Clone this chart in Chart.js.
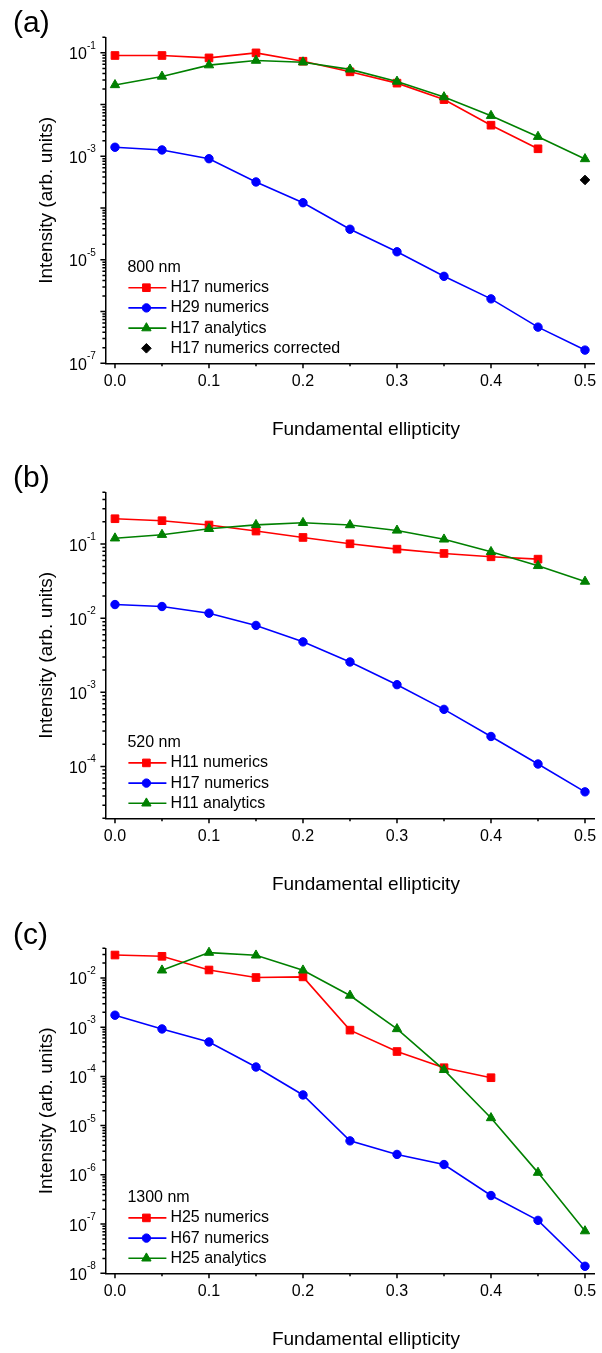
<!DOCTYPE html>
<html>
<head>
<meta charset="utf-8">
<script src="https://cdn.jsdelivr.net/npm/chart.js@4.4.1/dist/chart.umd.min.js"></script>
<style>
  html, body { margin: 0; padding: 0; background: #fff; }
  body { width: 602px; height: 1353px; position: relative; overflow: hidden; font-family: "Liberation Sans", Arial, sans-serif; }
  canvas { position: absolute; left: 0; }
  .tag { position: absolute; left: 13px; font-size: 30px; line-height: 30px; color: #000; }
</style>
</head>
<body>
<canvas id="chartA" width="602" height="450" style="top:0px"></canvas>
<canvas id="chartB" width="602" height="454" style="top:450px"></canvas>
<canvas id="chartC" width="602" height="449" style="top:904px"></canvas>
<div class="tag" style="top:7px">(a)</div>
<div class="tag" style="top:462px">(b)</div>
<div class="tag" style="top:919px">(c)</div>

<script>
const FONT = '"Liberation Sans", Arial, sans-serif';

// x values shared by every panel (fundamental ellipticity)
const ellipticity = [0, 0.05, 0.1, 0.15, 0.2, 0.25, 0.3, 0.35, 0.4, 0.45, 0.5];
const xTickValues = [0, 0.05, 0.1, 0.15, 0.2, 0.25, 0.3, 0.35, 0.4, 0.45, 0.5];
const xRange = [-0.0102, 0.51];

// (a) 800 nm
const h17Numerics800 = [0.089, 0.089, 0.080, 0.100, 0.069, 0.043, 0.026, 0.0125, 0.0040, 0.0014, null];
const h29Numerics800 = [1.5e-3, 1.33e-3, 9.0e-4, 3.2e-4, 1.27e-4, 3.9e-5, 1.43e-5, 4.8e-6, 1.76e-6, 5.0e-7, 1.8e-7];
const h17Analytics800 = [0.024, 0.035, 0.058, 0.071, 0.066, 0.048, 0.028, 0.014, 0.0061, 0.0024, 8.9e-4];
const h17Corrected800 = [null, null, null, null, null, null, null, null, null, null, 3.5e-4];
const yRange800 = [1e-7, 0.2];
const yLabelStep800 = 2;

// (b) 520 nm
const h11Numerics520 = [0.22, 0.207, 0.181, 0.150, 0.123, 0.101, 0.0856, 0.0748, 0.0674, 0.0627, null];
const h17Numerics520 = [0.0153, 0.0144, 0.0117, 0.0080, 0.0048, 0.00257, 0.00127, 5.9e-4, 2.54e-4, 1.08e-4, 4.55e-5];
const h11Analytics520 = [0.120, 0.134, 0.161, 0.182, 0.194, 0.181, 0.153, 0.116, 0.0787, 0.0509, 0.0313];
const yRange520 = [2e-5, 0.5];
const yLabelStep520 = 1;

// (c) 1300 nm
const h25Numerics1300 = [0.0292, 0.0275, 0.0145, 0.0102, 0.0105, 8.7e-4, 3.2e-4, 1.5e-4, 9.4e-5, null, null];
const h67Numerics1300 = [1.75e-3, 9.2e-4, 5.0e-4, 1.55e-4, 4.2e-5, 4.9e-6, 2.6e-6, 1.62e-6, 3.8e-7, 1.19e-7, 1.39e-8];
const h25Analytics1300 = [null, 0.0143, 0.0327, 0.0288, 0.0143, 4.4e-3, 9.2e-4, 1.36e-4, 1.43e-5, 1.11e-6, 7.2e-8];
const yRange1300 = [1e-8, 0.04];
const yLabelStep1300 = 1;

function series(values) {
    return ellipticity.map((x, i) => ({ x: x, y: values[i] })).filter(p => p.y !== null);
}

function isDecade(v) {
    const l = Math.log10(v);
    return Math.abs(l - Math.round(l)) < 1e-6;
}

// tick marks, power-of-ten labels, legend and x title
const decor = {
    id: 'decor',
    afterDraw(chart, args, opts) {
        const ctx = chart.ctx;
        const area = chart.chartArea;
        const xs = chart.scales.x, ys = chart.scales.y;
        ctx.save();

        // ticks (outward, major longer than minor)
        ctx.strokeStyle = '#000';
        ctx.lineWidth = 1.5;
        ctx.beginPath();
        xs.ticks.forEach(t => {
            const px = xs.getPixelForValue(t.value);
            const len = t.label ? 5 : 3;
            ctx.moveTo(px, area.bottom);
            ctx.lineTo(px, area.bottom + len);
        });
        ys.ticks.forEach(t => {
            const py = ys.getPixelForValue(t.value);
            const len = isDecade(t.value) ? 5 : 3;
            ctx.moveTo(area.left, py);
            ctx.lineTo(area.left - len, py);
        });
        ctx.stroke();

        // y labels as 10^n
        ctx.fillStyle = '#000';
        const lowExp = Math.round(Math.log10(ys.min));
        ys.ticks.forEach(t => {
            if (!isDecade(t.value)) return;
            const exp = Math.round(Math.log10(t.value));
            if ((exp - lowExp) % opts.labelStep !== 0) return;
            const py = ys.getPixelForValue(t.value);
            ctx.font = '16px ' + FONT;
            ctx.textAlign = 'right';
            ctx.textBaseline = 'alphabetic';
            ctx.fillText('10', area.left - 18.5, py + 6.5);
            ctx.font = '10px ' + FONT;
            ctx.textAlign = 'left';
            ctx.fillText(String(exp), area.left - 18.5, py - 4);
        });

        // legend inside the plot, bottom left
        const ds = chart.data.datasets;
        const n = ds.length;
        ctx.font = '16px ' + FONT;
        ctx.textAlign = 'left';
        ctx.textBaseline = 'middle';
        ctx.fillText(opts.title, area.left + 22, area.bottom - 15 - n * 20.2);
        ds.forEach((d, i) => {
            const y = area.bottom - 15 - (n - 1 - i) * 20.2;
            if (d.showLine !== false) {
                ctx.strokeStyle = d.borderColor;
                ctx.lineWidth = d.borderWidth;
                ctx.beginPath();
                ctx.moveTo(area.left + 23, y);
                ctx.lineTo(area.left + 61, y);
                ctx.stroke();
            }
            ctx.fillStyle = d.backgroundColor;
            ctx.strokeStyle = d.borderColor;
            ctx.lineWidth = d.pointBorderWidth;
            Chart.helpers.drawPoint(ctx, {
                pointStyle: d.pointStyle, radius: d.pointRadius, rotation: 0, borderWidth: d.pointBorderWidth
            }, area.left + 41, y);
            ctx.fillStyle = '#000';
            ctx.fillText(d.label, area.left + 65, y);
        });

        // x axis title
        ctx.font = '19px ' + FONT;
        ctx.textAlign = 'center';
        ctx.fillText('Fundamental ellipticity', (area.left + area.right) / 2 + 16, area.bottom + 66);
        ctx.restore();
    }
};

function styleSet(label, values, color, shape, radius, order, showLine) {
    return {
        label: label,
        data: series(values),
        borderColor: color,
        backgroundColor: color,
        borderWidth: 1.6,
        pointStyle: shape,
        pointRadius: radius,
        pointBorderWidth: 1,
        showLine: showLine,
        order: order,
        clip: false
    };
}

function makePanel(canvasId, panel, yRange, labelStep, legendTitle, datasets) {
    return new Chart(document.getElementById(canvasId), {
        type: 'line',
        data: { datasets: datasets },
        options: {
            responsive: false,
            animation: false,
            devicePixelRatio: 1,
            layout: { padding: { top: panel.plotTop, right: 7.6, bottom: 0, left: 0 } },
            plugins: {
                legend: { display: false },
                tooltip: { enabled: false },
                decor: { title: legendTitle, labelStep: labelStep }
            },
            scales: {
                x: {
                    type: 'linear',
                    min: xRange[0],
                    max: xRange[1],
                    afterBuildTicks: s => { s.ticks = xTickValues.map(v => ({ value: v })); },
                    afterFit: s => { s.height = panel.height - panel.plotBottom; },
                    grid: { display: false, drawTicks: true, tickLength: 5 },
                    border: { display: true, color: '#000', width: 1.5 },
                    ticks: {
                        autoSkip: false,
                        maxRotation: 0,
                        padding: 3.5,
                        color: '#000',
                        font: { family: FONT, size: 16 },
                        callback: v => Math.abs(v * 10 - Math.round(v * 10)) < 1e-6 ? v.toFixed(1) : ''
                    }
                },
                y: {
                    type: 'logarithmic',
                    min: yRange[0],
                    max: yRange[1],
                    afterBuildTicks: s => {
                        const ticks = [];
                        for (let d = Math.floor(Math.log10(yRange[0])); d <= Math.ceil(Math.log10(yRange[1])); d++) {
                            for (let m = 1; m <= 9; m++) {
                                const v = m * Math.pow(10, d);
                                if (v >= yRange[0] * 0.999 && v <= yRange[1] * 1.001) ticks.push({ value: v });
                            }
                        }
                        s.ticks = ticks;
                    },
                    afterFit: s => { s.width = 105.4; },
                    grid: { display: false },
                    border: { display: true, color: '#000', width: 1.5 },
                    ticks: { display: false },
                    title: {
                        display: true,
                        text: 'Intensity (arb. units)',
                        color: '#000',
                        font: { family: FONT, size: 19 },
                        padding: { top: 35.6, bottom: 0 }
                    }
                }
            }
        },
        plugins: [decor]
    });
}

makePanel('chartA', { height: 450, plotTop: 37.3, plotBottom: 363.3 }, yRange800, yLabelStep800, '800 nm', [
    styleSet('H17 numerics', h17Numerics800, '#ff0000', 'rect', 5.4, 3, true),
    styleSet('H29 numerics', h29Numerics800, '#0000ff', 'circle', 4.2, 2, true),
    styleSet('H17 analytics', h17Analytics800, '#008000', 'triangle', 5.4, 1, true),
    styleSet('H17 numerics corrected', h17Corrected800, '#000000', 'rectRot', 4.8, 0, false)
]);

makePanel('chartB', { height: 454, plotTop: 42.3, plotBottom: 368.3 }, yRange520, yLabelStep520, '520 nm', [
    styleSet('H11 numerics', h11Numerics520, '#ff0000', 'rect', 5.4, 3, true),
    styleSet('H17 numerics', h17Numerics520, '#0000ff', 'circle', 4.2, 2, true),
    styleSet('H11 analytics', h11Analytics520, '#008000', 'triangle', 5.4, 1, true)
]);

makePanel('chartC', { height: 449, plotTop: 44.3, plotBottom: 369.3 }, yRange1300, yLabelStep1300, '1300 nm', [
    styleSet('H25 numerics', h25Numerics1300, '#ff0000', 'rect', 5.4, 3, true),
    styleSet('H67 numerics', h67Numerics1300, '#0000ff', 'circle', 4.2, 2, true),
    styleSet('H25 analytics', h25Analytics1300, '#008000', 'triangle', 5.4, 1, true)
]);
</script>
</body>
</html>
